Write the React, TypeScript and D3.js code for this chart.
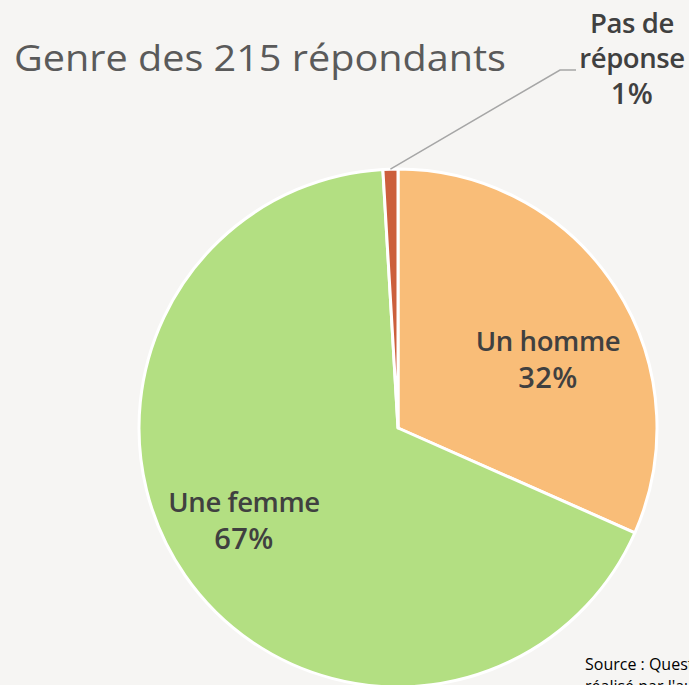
import React from "react";
import * as d3 from "d3";

const categories = ["Un homme", "Une femme", "Pas de réponse"];
const counts = [68, 145, 2];
const percentLabels = ["32%", "67%", "1%"];
const colors = ["#f9bd78", "#b3df82", "#cc5f3c"];
const titleText = "Genre des 215 répondants";
const sourceLines = ["Source : Questionnaire en ligne", "réalisé par l'auteur"];

const W = 689;
const H = 685;
const cx = 398;
const cy = 428;
const R = 259;

export default function App() {
  const pie = d3.pie<number>().sort(null).value((d) => d);
  const arcs = pie(counts);
  const arcGen = d3.arc<d3.PieArcDatum<number>>().innerRadius(0).outerRadius(R);

  const fontFam = "'Open Sans', Lato, sans-serif";
  const labelPos: [number, number][] = [
    [548, 351],
    [244, 512],
  ];

  const small = arcs[2];
  const midA = (small.startAngle + small.endAngle) / 2;
  const p0: [number, number] = [cx + Math.sin(midA) * R, cy - Math.cos(midA) * R];

  return (
    <div style={{ position: "absolute", left: 0, top: 0, width: W, height: H, overflow: "hidden" }}>
      <svg width={W} height={H} style={{ display: "block" }}>
        <rect x={0} y={0} width={W} height={H} fill="#f6f5f3" />
        <text x={14} y={71} fontFamily={fontFam} fontSize={36.5} fill="#5a5a5a" textLength={492} lengthAdjust="spacingAndGlyphs">
          {titleText}
        </text>
        <g transform={`translate(${cx},${cy})`}>
          {arcs.map((a, i) => (
            <path key={i} d={arcGen(a) || ""} fill={colors[i]} stroke="#ffffff" strokeWidth={3} strokeLinejoin="round" />
          ))}
        </g>
        <polyline
          points={`${p0[0]},${p0[1]} ${560},${70} ${576},${70}`}
          fill="none"
          stroke="#a6a6a6"
          strokeWidth={1.5}
        />
        {[0, 1].map((i) => (
          <text
            key={i}
            x={labelPos[i][0]}
            y={labelPos[i][1]}
            textAnchor="middle"
            fontFamily={fontFam}
            fontWeight={600}
            fontSize={27.5}
            fill="#404040"
            letterSpacing={-0.4}
          >
            <tspan x={labelPos[i][0]} dy={0}>{categories[i]}</tspan>
            <tspan x={labelPos[i][0]} dy={37} fontSize={29} letterSpacing={0.5}>{percentLabels[i]}</tspan>
          </text>
        ))}
        <text textAnchor="middle" fontFamily={fontFam} fontWeight={600} fontSize={27.5} fill="#404040" letterSpacing={-0.4}>
          <tspan x={632} y={33}>Pas de</tspan>
          <tspan x={632} y={68}>réponse</tspan>
          <tspan x={632} y={104} fontSize={29} letterSpacing={0.5}>{percentLabels[2]}</tspan>
        </text>
        <text fontFamily={fontFam} fontSize={16} fill="#000000">
          <tspan x={585} y={670}>{sourceLines[0]}</tspan>
          <tspan x={585} y={692}>{sourceLines[1]}</tspan>
        </text>
      </svg>
    </div>
  );
}
